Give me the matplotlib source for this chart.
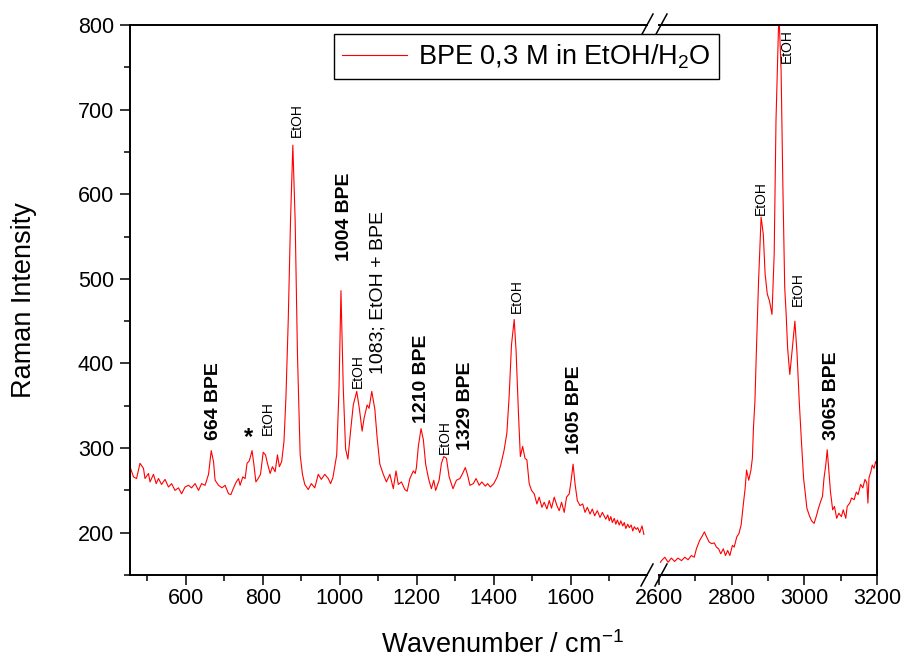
import matplotlib
matplotlib.use("Agg")
import matplotlib.pyplot as plt
from matplotlib.lines import Line2D
from matplotlib.ticker import MultipleLocator

plt.rcParams['font.family'] = ['Liberation Sans', 'DejaVu Sans']
plt.rcParams['mathtext.fontset'] = 'custom'
plt.rcParams['mathtext.rm'] = 'Liberation Sans'
plt.rcParams['mathtext.it'] = 'Liberation Sans:italic'
plt.rcParams['mathtext.bf'] = 'Liberation Sans:bold'

# spectrum, low wavenumber part
low_wn = [455, 464, 472, 481, 490, 494, 503, 507, 516, 523, 529, 537, 546, 555, 563, 572,
          581, 589, 598, 607, 615, 624, 633, 641, 650, 659, 666, 672, 676, 685, 694, 702,
          711, 717, 724, 731, 737, 741, 748, 754, 759, 765, 772, 777, 782, 788, 794, 801,
          807, 812, 819, 825, 832, 838, 843, 849, 855, 860, 866, 872, 878, 884, 890, 897,
          903, 909, 918, 926, 935, 944, 952, 961, 970, 976, 982, 992, 998, 1003, 1009, 1015,
          1021, 1028, 1035, 1044, 1051, 1058, 1063, 1071, 1076, 1083, 1091, 1097, 1104, 1113, 1121, 1130,
          1139, 1146, 1152, 1160, 1169, 1175, 1182, 1191, 1196, 1199, 1204, 1211, 1217, 1223, 1230, 1234,
          1238, 1244, 1249, 1258, 1264, 1270, 1277, 1284, 1294, 1303, 1312, 1319, 1326, 1332, 1338, 1347,
          1354, 1362, 1369, 1378, 1384, 1391, 1400, 1409, 1418, 1427, 1434, 1440, 1446, 1453, 1458, 1464,
          1469, 1475, 1481, 1486, 1492, 1498, 1505, 1512, 1518, 1525, 1531, 1538, 1544, 1550, 1557, 1564,
          1570, 1576, 1583, 1589, 1596, 1601, 1606, 1611, 1617, 1624, 1631, 1637, 1643, 1650, 1656, 1662,
          1669, 1676, 1682, 1691, 1696, 1700, 1704, 1708, 1713, 1717, 1721, 1726, 1730, 1735, 1739, 1743,
          1748, 1752, 1757, 1761, 1765, 1770, 1774, 1779, 1785, 1790]
low_int = [278, 266, 264, 282, 276, 264, 270, 260, 269, 258, 264, 257, 263, 254, 258, 250,
           253, 246, 254, 256, 253, 258, 250, 258, 256, 269, 297, 284, 262, 256, 253, 256,
           246, 245, 253, 260, 264, 256, 266, 264, 282, 285, 297, 280, 260, 264, 269, 295,
           292, 282, 270, 278, 272, 292, 278, 284, 308, 359, 450, 569, 658, 569, 411, 292,
           269, 257, 251, 258, 253, 269, 263, 269, 264, 258, 265, 292, 371, 486, 371, 299,
           287, 320, 351, 367, 346, 320, 335, 351, 347, 367, 346, 312, 281, 269, 260, 269,
           252, 273, 257, 260, 251, 249, 264, 273, 270, 277, 302, 323, 310, 281, 265, 258,
           252, 262, 250, 262, 282, 290, 288, 266, 252, 262, 264, 270, 277, 268, 256, 258,
           264, 256, 260, 255, 258, 254, 258, 266, 280, 298, 318, 362, 422, 452, 414, 342,
           290, 302, 288, 286, 258, 250, 246, 234, 242, 230, 236, 228, 238, 229, 242, 232,
           226, 236, 224, 242, 246, 262, 281, 258, 238, 232, 234, 224, 230, 222, 228, 220,
           226, 218, 224, 216, 221, 214, 219, 212, 217, 210, 215, 209, 214, 208, 212, 205,
           210, 206, 209, 202, 207, 204, 206, 200, 208, 198]

# spectrum, high wavenumber part
high_wn = [2604, 2607, 2616, 2625, 2634, 2643, 2652, 2662, 2671, 2680, 2689, 2697, 2703, 2712, 2719, 2725,
           2731, 2738, 2745, 2752, 2758, 2764, 2770, 2777, 2783, 2789, 2795, 2802, 2807, 2814, 2820, 2826,
           2829, 2833, 2837, 2841, 2847, 2853, 2857, 2860, 2864, 2868, 2874, 2881, 2887, 2892, 2898, 2904,
           2911, 2917, 2922, 2930, 2936, 2941, 2946, 2950, 2954, 2960, 2967, 2974, 2980, 2986, 2992, 2998,
           3003, 3007, 3014, 3020, 3027, 3034, 3039, 3045, 3050, 3054, 3059, 3063, 3067, 3072, 3078, 3083,
           3089, 3095, 3102, 3107, 3114, 3118, 3125, 3130, 3137, 3143, 3148, 3155, 3161, 3167, 3172, 3175,
           3178, 3183, 3187, 3192, 3196, 3200]
high_int = [165, 167, 171, 165, 170, 166, 170, 167, 171, 168, 173, 171, 181, 191, 196, 201,
            195, 189, 187, 188, 183, 181, 175, 181, 173, 179, 173, 185, 183, 195, 199, 209,
            221, 237, 252, 274, 262, 274, 288, 324, 355, 414, 497, 573, 553, 506, 482, 474,
            458, 529, 687, 815, 747, 608, 490, 458, 418, 387, 418, 450, 411, 355, 308, 264,
            245, 229, 220, 214, 211, 221, 229, 237, 243, 264, 280, 298, 276, 248, 227, 231,
            217, 223, 219, 227, 217, 231, 235, 241, 239, 248, 245, 257, 253, 263, 259, 235,
            265, 272, 280, 276, 284, 280]

# peak labels: (text, wavenumber, intensity, style)
low_labels = [("664 BPE", 671, 310, "bold"),
              ("EtOH", 813, 316, "small"),
              ("EtOH", 889, 668, "small"),
              ("1004 BPE", 1013, 521, "bold"),
              ("EtOH", 1048, 371, "small"),
              ("1083; EtOH + BPE", 1098, 387, "normal"),
              ("1210 BPE", 1213, 330, "bold"),
              ("EtOH", 1273, 293, "small"),
              ("1329 BPE", 1326, 298, "bold"),
              ("EtOH", 1460, 460, "small"),
              ("1605 BPE", 1609, 293, "bold")]
high_labels = [("EtOH", 2881, 575, "small"),
               ("EtOH", 2953, 755, "small"),
               ("EtOH", 2981, 468, "small"),
               ("3065 BPE", 3074, 310, "bold")]

W, H = 904, 660
fig = plt.figure(figsize=(W / 100, H / 100), dpi=100)

def px(x0, y0, x1, y1):
    return [x0 / W, 1 - y1 / H, (x1 - x0) / W, (y1 - y0) / H]

ax1 = fig.add_axes(px(130, 25, 647, 575))
ax2 = fig.add_axes(px(659, 25, 877, 575))

line, = ax1.plot(low_wn, low_int, color='red', lw=0.8)
ax2.plot(high_wn, high_int, color='red', lw=0.8)

ax1.set_xlim(455, 1798)
ax2.set_xlim(2600, 3200)
for ax in (ax1, ax2):
    ax.set_ylim(150, 800)
    for s in ax.spines.values():
        s.set_linewidth(1.4)
    ax.tick_params(which='both', direction='out', width=1.1, labelsize=15.5, pad=1.5)
    ax.tick_params(which='major', length=7.5)
    ax.tick_params(which='minor', length=4.3)
    ax.xaxis.set_major_locator(MultipleLocator(200))
    ax.xaxis.set_minor_locator(MultipleLocator(100))

ax1.spines['right'].set_visible(False)
ax2.spines['left'].set_visible(False)
ax1.yaxis.set_major_locator(MultipleLocator(100))
ax1.yaxis.set_minor_locator(MultipleLocator(50))
ax1.tick_params(axis='y', pad=4)
ax1.set_yticks([200, 300, 400, 500, 600, 700, 800])
ax2.tick_params(axis='y', which='both', left=False, labelleft=False)

styles = {"bold": dict(fontsize=14, fontweight='bold'),
          "normal": dict(fontsize=14),
          "small": dict(fontsize=10)}
for ax, labels in ((ax1, low_labels), (ax2, high_labels)):
    for txt, wn, y, st in labels:
        ax.text(wn, y, txt, rotation=90, ha='center', va='bottom', **styles[st])
ax1.text(764, 312, "*", ha='center', va='center', fontsize=17, fontweight='bold')

# axis break marks
for yb in (575, 25):
    for xb in (647, 661):
        fig.add_artist(Line2D([(xb - 6) / W, (xb + 6) / W], [1 - (yb + 11) / H, 1 - (yb - 11) / H],
                              transform=fig.transFigure, color='black', lw=1.1))

fig.text(24 / W, 1 - 300 / H, "Raman Intensity", rotation=90, ha='center', va='center', fontsize=19.5)
fig.text(503 / W, 1 - 653 / H, "Wavenumber / cm$^{-1}$", ha='center', va='baseline', fontsize=19.5)

leg = fig.legend([line], ["BPE 0,3 M in EtOH/H$_2$O"], loc='upper left',
                 bbox_to_anchor=(334 / W, 1 - 34 / H), bbox_transform=fig.transFigure,
                 fontsize=19.5, frameon=True, fancybox=False, framealpha=1, edgecolor='black',
                 borderaxespad=0, borderpad=0.3, handlelength=2.4, handletextpad=0.4)
leg.get_frame().set_linewidth(1.0)

fig.savefig("out.png", dpi=100)
